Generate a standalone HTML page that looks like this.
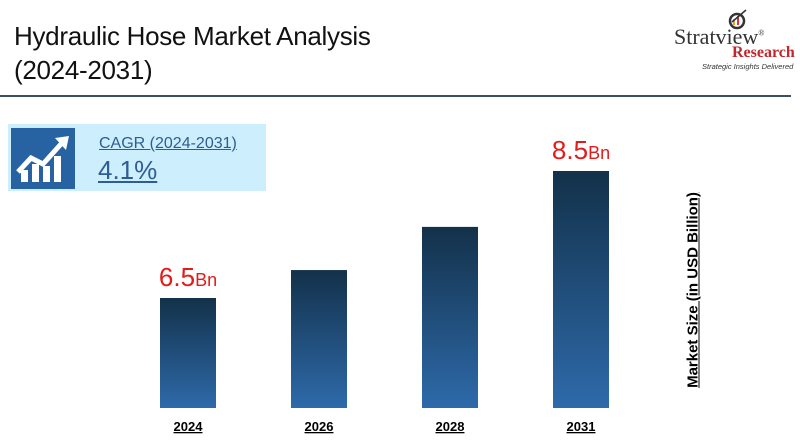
<!DOCTYPE html>
<html><head><meta charset="utf-8"><style>
body{margin:0;width:800px;height:442px;background:#fff;font-family:"Liberation Sans",sans-serif;position:relative;overflow:hidden}
.abs{position:absolute}
</style></head><body>
<div class="abs" style="left:14px;top:19px;font-size:26px;line-height:34px;color:#111;letter-spacing:-0.3px">Hydraulic Hose Market Analysis<br>(2024-2031)</div>
<div class="abs" style="left:680px;top:8px;width:120px;height:60px">
 <svg width="120" height="60" style="position:absolute;left:0;top:0">
  <circle cx="57" cy="13" r="7" fill="none" stroke="#333" stroke-width="2.5"/>
  <rect x="53" y="11" width="2" height="6" fill="#e8a020"/><rect x="57" y="8" width="2" height="9" fill="#d33"/>
  <line x1="52" y1="14" x2="66" y2="2" stroke="#333" stroke-width="1.5"/>
 </svg>
 <div class="abs" style="left:-6px;top:16px;font-family:'Liberation Serif',serif;font-size:22px;color:#333;white-space:nowrap">Stratview<sup style="font-size:8px">®</sup></div>
 <div class="abs" style="left:52px;top:36px;font-family:'Liberation Serif',serif;font-weight:bold;font-size:16px;color:#c0282d">Research</div>
 <div class="abs" style="left:22px;top:54px;font-style:italic;font-size:7.5px;color:#333;white-space:nowrap">Strategic Insights Delivered</div>
</div>
<div class="abs" style="left:0;top:95px;width:791px;height:2px;background:#3b4f62"></div>
<div class="abs" style="left:8px;top:124px;width:258px;height:67px;background:#cdeefc"></div>
<div class="abs" style="left:11px;top:128px;width:64px;height:61px;background:#2763a3">
 <svg width="64" height="61"><g fill="#fff"><rect x="10" y="42" width="7" height="12"/><rect x="21" y="36" width="7" height="18"/><rect x="32" y="38" width="7" height="16"/><rect x="43" y="28" width="7" height="26"/></g>
 <polyline points="7,44 20,30 32,36 50,16" fill="none" stroke="#fff" stroke-width="5"/><polygon points="44,10 58,8 55,22" fill="#fff"/></svg>
</div>
<div class="abs" style="left:99px;top:135px;font-size:16px;color:#2d5d94;text-decoration:underline">CAGR (2024-2031)</div>
<div class="abs" style="left:98px;top:155px;font-size:26px;color:#2d5d94;text-decoration:underline">4.1%</div>
<div class="abs" style="left:693px;top:290px;width:0;height:0">
 <div style="position:absolute;transform:translate(-50%,-50%) rotate(-90deg);white-space:nowrap;font-weight:bold;font-size:15px;color:#000;text-decoration:underline">Market Size (in USD Billion)</div>
</div>
<svg id="chart" class="abs" style="left:0;top:0" width="800" height="442">
 <defs><linearGradient id="g" x1="0" y1="0" x2="0" y2="1"><stop offset="0" stop-color="#13314a"/><stop offset="1" stop-color="#2e6aaa"/></linearGradient></defs>
</svg>
<script>
const categories=["2024","2026","2028","2031"];
const values=[6.5,6.94,7.62,8.5];
const labels=["6.5","","","8.5"];
const svg=document.getElementById('chart');
const NS="http://www.w3.org/2000/svg";
const baseY=408, bw=56;
function xPos(i){return 160+i*131;}
function hScale(v){return -302.75+63.5*v;}
categories.forEach((c,i)=>{
 const h=hScale(values[i]);const x=xPos(i);
 const r=document.createElementNS(NS,'rect');
 
 
 r.setAttribute('x',x);r.setAttribute('y',baseY-h);r.setAttribute('width',bw);r.setAttribute('height',h);r.setAttribute('fill','url(#g)');
 svg.appendChild(r);
 const t=document.createElementNS(NS,'text');
 
 
 t.setAttribute('x',x+bw/2);t.setAttribute('y',431);t.setAttribute('text-anchor','middle');
 t.setAttribute('font-size','13');t.setAttribute('font-weight','bold');t.setAttribute('text-decoration','underline');t.setAttribute('font-family','Liberation Sans, sans-serif');
 t.textContent=c;svg.appendChild(t);
 if(labels[i]){
  const v=document.createElementNS(NS,'text');
  
  
  v.setAttribute('x',x+bw/2);v.setAttribute('y',baseY-h-12);v.setAttribute('text-anchor','middle');
  v.setAttribute('fill','#e31b1b');v.setAttribute('font-family','Liberation Sans, sans-serif');
  v.innerHTML='<tspan font-size="26">'+labels[i]+'</tspan><tspan font-size="18">Bn</tspan>';
  svg.appendChild(v);
 }
});
</script>
</body></html>
